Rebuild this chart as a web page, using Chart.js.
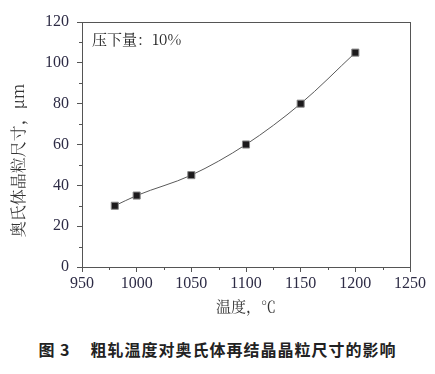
<!DOCTYPE html>
<html>
<head>
<meta charset="utf-8">
<script src="https://cdn.jsdelivr.net/npm/chart.js@4"></script>
<style>
  html, body { margin: 0; padding: 0; background: #fff; }
  #wrap { position: relative; width: 435px; height: 325px; }
  #caption {
    position: absolute; left: 0; top: 337px; width: 435px; text-align: center;
    font-family: "Noto Sans CJK SC", sans-serif; font-weight: bold; font-size: 16px;
    letter-spacing: 1px; color: #222;
  }
</style>
</head>
<body>
<div id="wrap"><canvas id="c"></canvas></div>
<div id="caption">图 3<span style="margin-left:20px">粗轧温度对奥氏体再结晶晶粒尺寸的影响</span></div>
<script>
const temps = [980, 1000, 1050, 1100, 1150, 1200];
const grainSize = [30, 35, 45, 60, 80, 105];
const note = '压下量：10%';

const tickColor = '#2d2b45';
const serifFont = "'Liberation Serif', 'Times New Roman', serif";
const cjkSerif = "'Noto Serif CJK SC', 'Liberation Serif', serif";

Chart.defaults.font.family = serifFont;

// frame, minor ticks and note text
const extras = {
  id: 'extras',
  afterDraw(chart) {
    const ctx = chart.ctx;
    const a = chart.chartArea;
    const x = chart.scales.x, y = chart.scales.y;
    ctx.save();
    ctx.strokeStyle = '#555';
    ctx.lineWidth = 1;
    ctx.strokeRect(a.left + 0.5, a.top + 0.5, a.right - a.left, a.bottom - a.top);
    ctx.beginPath();
    for (let v = 975; v < 1250; v += 50) {
      const px = Math.round(x.getPixelForValue(v)) + 0.5;
      ctx.moveTo(px, a.bottom); ctx.lineTo(px, a.bottom + 3);
    }
    for (let v = 10; v < 120; v += 20) {
      const py = Math.round(y.getPixelForValue(v)) + 0.5;
      ctx.moveTo(a.left, py); ctx.lineTo(a.left - 3, py);
    }
    ctx.stroke();
    ctx.fillStyle = '#222';
    ctx.font = "15px " + cjkSerif;
    ctx.textBaseline = 'middle';
    ctx.fillText(note, a.left + 10, a.top + 17);
    ctx.restore();
  }
};

new Chart(document.getElementById('c'), {
  type: 'scatter',
  data: {
    datasets: [{
      data: temps.map((t, i) => ({ x: t, y: grainSize[i] })),
      showLine: true,
      cubicInterpolationMode: 'monotone',
      borderColor: '#5a5a5a',
      borderWidth: 1,
      pointStyle: 'rect',
      pointRadius: 5,
      pointBackgroundColor: '#1c1a1c',
      pointBorderColor: '#888',
      pointBorderWidth: 1
    }]
  },
  options: {
    responsive: true,
    maintainAspectRatio: false,
    animation: false,
    layout: { padding: { top: 22, right: 25, bottom: 0, left: 0 } },
    plugins: { legend: { display: false }, tooltip: { enabled: false } },
    scales: {
      x: {
        type: 'linear', min: 950, max: 1250,
        afterFit(s) { s.height = 58; },
        grid: { display: true, drawOnChartArea: false, tickLength: 5, color: '#555' },
        border: { color: '#555' },
        ticks: {
          stepSize: 50, color: tickColor, padding: 2,
          font: { family: serifFont, size: 16 },
          callback: v => String(v)
        },
        title: {
          display: true, text: '温度，℃', color: '#333',
          font: { family: cjkSerif, size: 15 },
          padding: { top: 0, bottom: 10 }
        }
      },
      y: {
        min: 0, max: 120,
        afterFit(s) { s.width = 82; },
        grid: { display: true, drawOnChartArea: false, tickLength: 5, color: '#555' },
        border: { color: '#555' },
        ticks: {
          stepSize: 20, color: tickColor, padding: 8,
          font: { family: serifFont, size: 16 },
          callback: v => String(v)
        },
        title: {
          display: true, text: '奥氏体晶粒尺寸，μm　　', color: '#333',
          font: { family: cjkSerif, size: 16 },
          padding: { top: 8, bottom: 0 }
        }
      }
    }
  },
  plugins: [extras]
});
</script>
</body>
</html>
